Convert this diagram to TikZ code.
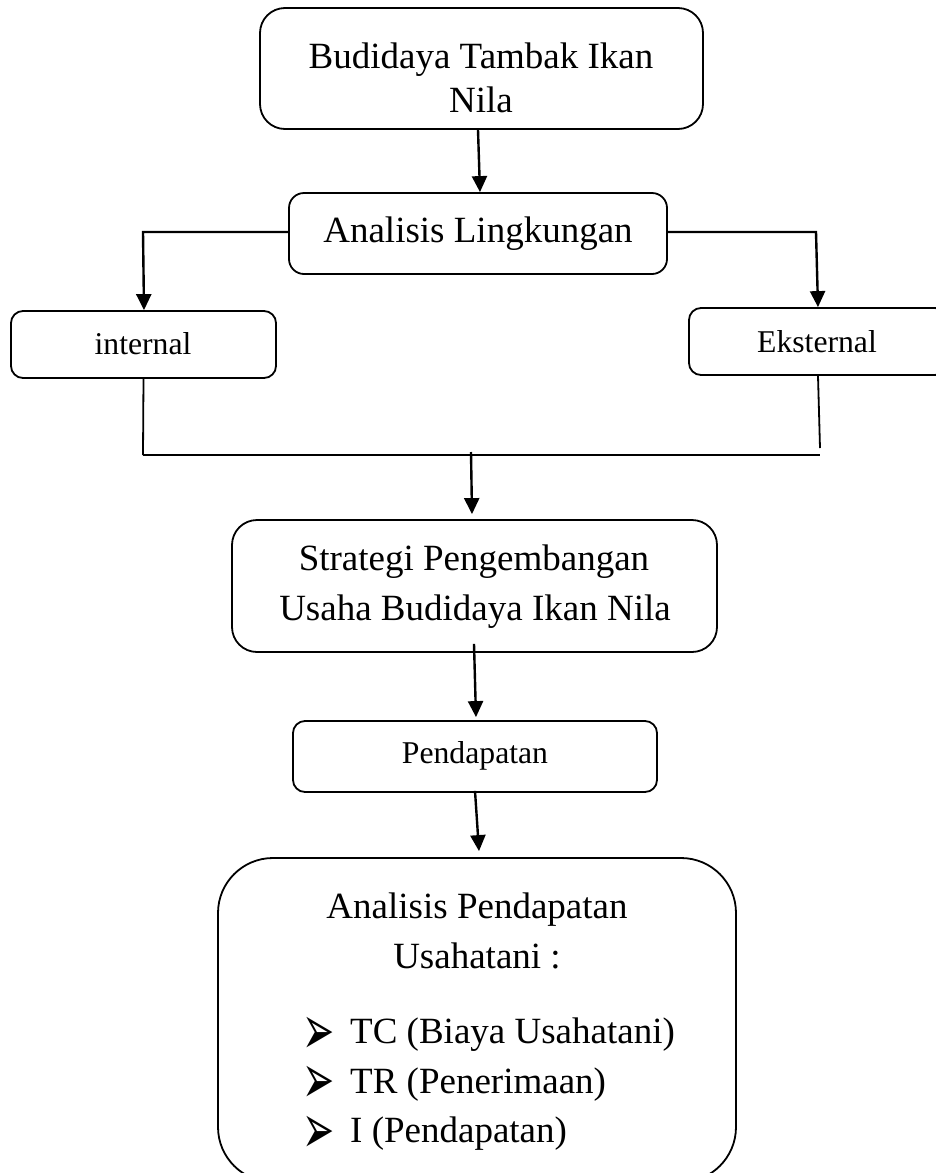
\documentclass[tikz,border=0pt]{standalone}
\usepackage{fontspec}
\usepackage{graphicx}
\setmainfont{Liberation Serif}
\newfontfamily\dingfont{DejaVu Sans}
\usetikzlibrary{arrows.meta,calc}
\newcommand{\arrbullet}{\raisebox{-10pt}[26pt][0pt]{\scalebox{1.04}[1.89]{➢}}}
\begin{document}
\begin{tikzpicture}[x=1pt,y=-1pt,
  box/.style={draw, line width=1.8pt, inner sep=0pt},
  big/.style={font=\fontsize{37}{44}\selectfont, inner sep=0pt, anchor=base},
  small/.style={font=\fontsize{31.7}{38}\selectfont, inner sep=0pt, anchor=base},
  arr/.style={line width=2.4pt, -{Triangle[length=16pt,width=15pt]}},
  ln/.style={line width=1.8pt},
  bul/.style={font=\dingfont\fontsize{37}{49.5}\selectfont, inner sep=0pt, anchor=north west, align=left},
  item/.style={font=\fontsize{37}{44}\selectfont, inner sep=0pt, anchor=base west}]
\useasboundingbox (0,0) rectangle (936,1173);
% boxes
\node[box, rounded corners=25pt, minimum width=443pt, minimum height=121pt] (b1) at (481.5,68.5) {};
\node[box, rounded corners=15pt, minimum width=378pt, minimum height=81pt] (b2) at (478,233.5) {};
\node[box, rounded corners=12pt, minimum width=265pt, minimum height=67pt] (int) at (143.5,344.5) {};
\node[box, rounded corners=12pt, minimum width=258pt, minimum height=67pt] (eks) at (818,341.5) {};
\node[box, rounded corners=25pt, minimum width=485pt, minimum height=132pt] (st) at (474.5,586) {};
\node[box, rounded corners=12pt, minimum width=364pt, minimum height=71pt] (pd) at (475,756.5) {};
\node[box, rounded corners=55pt, minimum width=518pt, minimum height=324pt] (an) at (477,1020) {};
% texts
\node[big] (t1a) at (481,68) {Budidaya Tambak Ikan};
\node[big] (t1b) at (481,112) {Nila};
\node[big] (t2) at (478,242) {Analisis Lingkungan};
\node[small] (tint) at (143,354) {internal};
\node[small] (teks) at (817,352) {Eksternal};
\node[big] (t3a) at (474,570) {Strategi Pengembangan};
\node[big] (t3b) at (475,620) {Usaha Budidaya Ikan Nila};
\node[small] (tpd) at (475,763) {Pendapatan};
\node[big] (t4a) at (477,918) {Analisis Pendapatan};
\node[big] (t4b) at (477,968) {Usahatani :};
\node[bul] (kb) at (302,1018) {\arrbullet\\\arrbullet\\\arrbullet};
\node[item] (i1) at (350,1043) {TC (Biaya Usahatani)};
\node[item] (i2) at (350,1093) {TR (Penerimaan)};
\node[item] (i3) at (350,1142) {I (Pendapatan)};
% coordinates
\coordinate (lc) at (143,232);
\coordinate (rc) at (816,232);
\coordinate (jl) at (143,455);
\coordinate (jr) at (820,455);
\coordinate (er) at (820,448);
\coordinate (jc) at (471,452);
% connectors
\draw[arr] ([xshift=-3.5pt]b1.south) -- ([xshift=2pt]b2.north);
\draw[arr] ([yshift=1.5pt]b2.west) -- (lc) -- ([xshift=0.5pt]int.north);
\draw[arr] ([yshift=1.5pt]b2.east) -- (rc) -- (eks.north);
\draw[ln] (int.south) -- (jl);
\draw[line width=2.6pt] (jl) -- (jr);
\draw[ln] (eks.south) -- (er);
\draw[arr] (jc) -- ([xshift=-2.5pt,yshift=5pt]st.north);
\draw[arr] ([xshift=-0.5pt,yshift=9pt]st.south) -- ([xshift=1pt,yshift=3pt]pd.north);
\draw[arr] ([yshift=2pt]pd.south) -- ([xshift=2pt,yshift=6pt]an.north);
\end{tikzpicture}
\end{document}
